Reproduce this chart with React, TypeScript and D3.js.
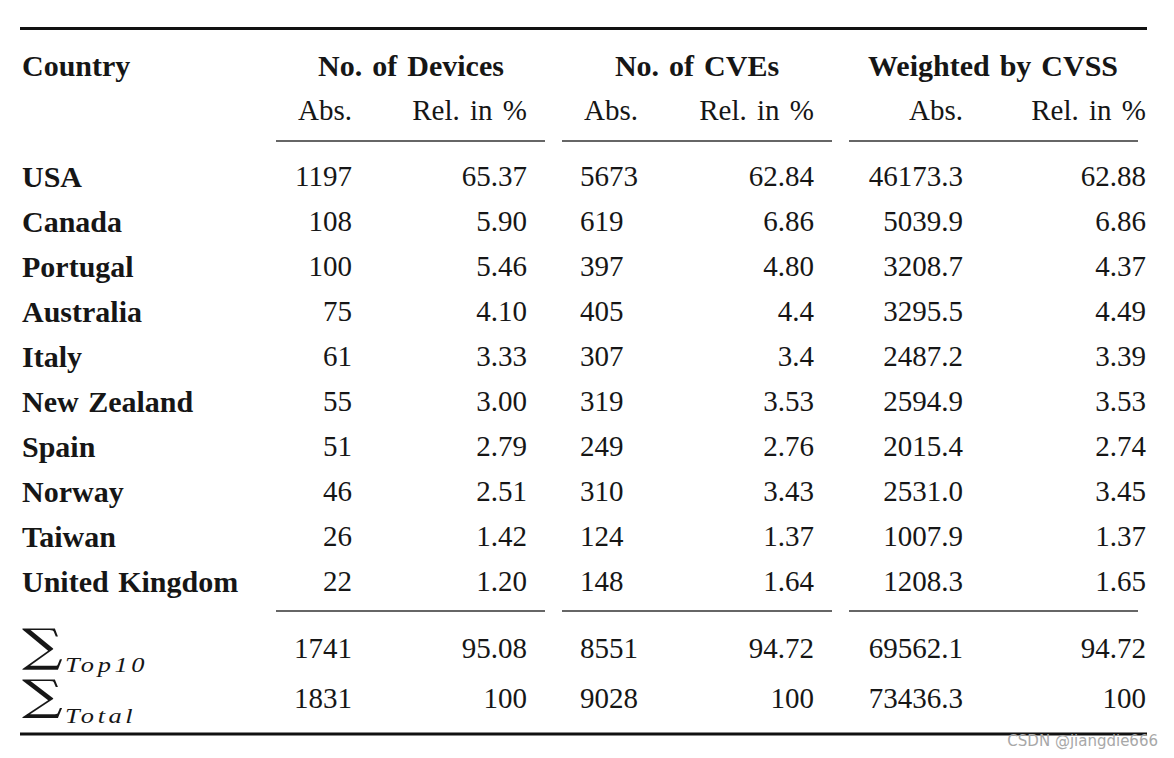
import React from "react";
import * as d3 from "d3";

const countries = ["USA", "Canada", "Portugal", "Australia", "Italy", "New Zealand", "Spain", "Norway", "Taiwan", "United Kingdom"];
const devicesAbs = ["1197", "108", "100", "75", "61", "55", "51", "46", "26", "22"];
const devicesRel = ["65.37", "5.90", "5.46", "4.10", "3.33", "3.00", "2.79", "2.51", "1.42", "1.20"];
const cvesAbs = ["5673", "619", "397", "405", "307", "319", "249", "310", "124", "148"];
const cvesRel = ["62.84", "6.86", "4.80", "4.4", "3.4", "3.53", "2.76", "3.43", "1.37", "1.64"];
const cvssAbs = ["46173.3", "5039.9", "3208.7", "3295.5", "2487.2", "2594.9", "2015.4", "2531.0", "1007.9", "1208.3"];
const cvssRel = ["62.88", "6.86", "4.37", "4.49", "3.39", "3.53", "2.74", "3.45", "1.37", "1.65"];

const sumLabels = ["Top10", "Total"];
const sumDevicesAbs = ["1741", "1831"];
const sumDevicesRel = ["95.08", "100"];
const sumCvesAbs = ["8551", "9028"];
const sumCvesRel = ["94.72", "100"];
const sumCvssAbs = ["69562.1", "73436.3"];
const sumCvssRel = ["94.72", "100"];

const groupHeaders = ["No. of Devices", "No. of CVEs", "Weighted by CVSS"];
const subHeaders = ["Abs.", "Rel. in %"];

const W = 1174;
const H = 758;
const FONT = "'Liberation Serif', 'Times New Roman', serif";
const FS = 29;
const FSB = 30;
const INK = "#161616";

export default function App() {
  const y = d3.scaleLinear().domain([0, countries.length - 1]).range([176, 581]);
  const ySum = d3.scaleLinear().domain([0, 1]).range([648, 698]);

  const cols: { x: number; anchor: "start" | "end" }[] = [
    { x: 352, anchor: "end" },
    { x: 527, anchor: "end" },
    { x: 580, anchor: "start" },
    { x: 814, anchor: "end" },
    { x: 963, anchor: "end" },
    { x: 1146, anchor: "end" },
  ];
  const groups = [
    { x0: 276, x1: 545, cx: 411 },
    { x0: 562, x1: 832, cx: 697 },
    { x0: 849, x1: 1138, cx: 993 },
  ];
  const dataCols = [devicesAbs, devicesRel, cvesAbs, cvesRel, cvssAbs, cvssRel];
  const sumCols = [sumDevicesAbs, sumDevicesRel, sumCvesAbs, sumCvesRel, sumCvssAbs, sumCvssRel];

  return (
    <svg
      width={W}
      height={H}
      viewBox={`0 0 ${W} ${H}`}
      style={{ position: "absolute", left: 0, top: 0, background: "#fff" }}
      fontFamily={FONT}
      fill={INK}
    >
      <rect x={0} y={0} width={W} height={H} fill="#fff" />
      <line x1={20} x2={1147} y1={28.5} y2={28.5} stroke="#111" strokeWidth={3} />

      <text x={22} y={65} dy="0.35em" fontSize={FSB} fontWeight="bold">Country</text>
      {groups.map((g, i) => (
        <text key={i} x={g.cx} y={65} dy="0.35em" fontSize={FSB} fontWeight="bold" textAnchor="middle" wordSpacing={2.5}>
          {groupHeaders[i]}
        </text>
      ))}
      {cols.map((c, i) => (
        <text key={i} x={c.x + (i === 2 ? 4 : 0)} y={110} dy="0.35em" fontSize={FS} textAnchor={c.anchor} wordSpacing={3}>
          {subHeaders[i % 2]}
        </text>
      ))}
      {groups.map((g, i) => (
        <line key={"a" + i} x1={g.x0} x2={g.x1} y1={141} y2={141} stroke="#666" strokeWidth={2} />
      ))}

      {countries.map((c, r) => (
        <g key={c}>
          <text x={22} y={y(r)} dy="0.35em" fontSize={FSB} fontWeight="bold" wordSpacing={2}>{c}</text>
          {cols.map((col, i) => (
            <text key={i} x={col.x} y={y(r)} dy="0.35em" fontSize={FS} textAnchor={col.anchor}>
              {dataCols[i][r]}
            </text>
          ))}
        </g>
      ))}

      {groups.map((g, i) => (
        <line key={"b" + i} x1={g.x0} x2={g.x1} y1={611} y2={611} stroke="#666" strokeWidth={2} />
      ))}

      {sumLabels.map((s, r) => (
        <g key={s}>
          <text
            transform={`translate(22, ${ySum(r) + 13 - r * 1}) scale(1.27, ${r === 0 ? 1 : 0.95})`}
            fontSize={45}
            fontFamily="'DejaVu Serif', serif"
          >
            ∑
          </text>
          <text
            transform={`translate(65, ${ySum(r) + 24 + r * 1}) scale(1.2, 1)`}
            fontSize={22}
            fontStyle="italic"
            letterSpacing={3}
          >
            {s}
          </text>
          {cols.map((col, i) => (
            <text key={i} x={col.x} y={ySum(r)} dy="0.35em" fontSize={FS} textAnchor={col.anchor}>
              {sumCols[i][r]}
            </text>
          ))}
        </g>
      ))}

      <line x1={20} x2={1147} y1={734} y2={734} stroke="#111" strokeWidth={3} />

      <text x={1158} y={746} fontSize={15} textAnchor="end" fontFamily="'DejaVu Sans', sans-serif" fill="#a8a8a8">
        CSDN @jiangdie666
      </text>
    </svg>
  );
}
